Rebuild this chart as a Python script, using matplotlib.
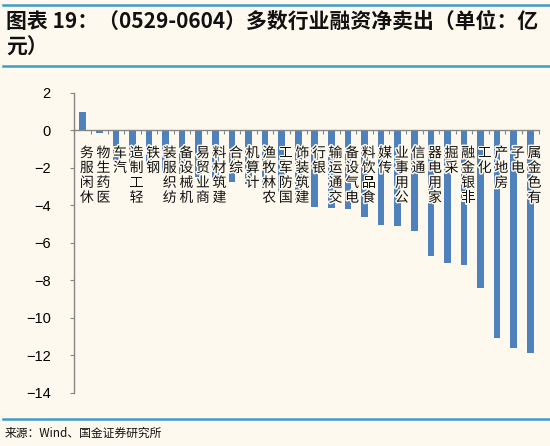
import matplotlib
matplotlib.use('Agg')
import matplotlib.pyplot as plt
from matplotlib.lines import Line2D
import matplotlib.patheffects as pe

# 行业及融资净买入额（亿元）
industries = ['休闲服务', '医药生物', '汽车', '轻工制造', '钢铁', '纺织服装', '机械设备',
              '商业贸易', '建筑材料', '综合', '计算机', '农林牧渔', '国防军工', '建筑装饰',
              '银行', '交通运输', '电气设备', '食品饮料', '传媒', '公用事业', '通信',
              '家用电器', '采掘', '非银金融', '化工', '房地产', '电子', '有色金属']
net_buy = [0.95, -0.13, -1.7, -1.95, -2.05, -2.2, -2.35,
           -2.5, -2.65, -2.75, -2.85, -3.1, -3.3, -3.7,
           -4.1, -4.15, -4.2, -4.65, -5.05, -5.1, -5.4,
           -6.7, -7.1, -7.2, -8.4, -11.1, -11.6, -11.9]
yticks = [2, 0, -2, -4, -6, -8, -10, -12, -14]

title = '图表 19：（0529-0604）多数行业融资净卖出（单位：亿\n元）'
source = '来源：Wind、国金证券研究所'

bg = '#FDF9EE'
bar_c = '#4F81BD'
axis_c = '#868686'
line_c = '#3E9CC8'
cjk = ['Noto Sans CJK SC', 'DejaVu Sans']

plt.rcParams['font.family'] = cjk
plt.rcParams['axes.unicode_minus'] = True

fig = plt.figure(figsize=(5.5, 4.46), dpi=100, facecolor=bg)
W, H = 550.0, 446.0

# 标题和来源
for yy in [5, 66, 419]:
    fig.add_artist(Line2D([3 / W, 1], [1 - yy / H, 1 - yy / H], color=line_c, lw=1.8))
fig.text(6 / W, 1 - 11 / H, title, ha='left', va='top', fontsize=15,
         fontweight='bold', color='#111111', linespacing=1.3)
fig.text(5 / W, 1 - 433 / H, source, ha='left', va='center', fontsize=8.5,
         color='#111111')

ax = fig.add_axes([74.4 / W, 1 - 392.7 / H, (538.6 - 74.4) / W, (392.7 - 92.7) / H])
ax.set_facecolor(bg)

x = list(range(len(industries)))
ax.bar(x, net_buy, width=0.4, color=bar_c, zorder=2)

ax.set_xlim(-0.5, len(industries) - 0.5)
ax.set_ylim(-14, 2)
ax.set_yticks(yticks)
ax.tick_params(axis='y', direction='out', length=3, color=axis_c, pad=14,
               labelsize=10.5)
for t in ax.get_yticklabels():
    t.set_family(['Liberation Sans', 'DejaVu Sans'])

ax.spines['bottom'].set_position(('data', 0))
ax.set_xticks([i - 0.5 for i in range(len(industries) + 1)])
ax.set_xticklabels([])
ax.tick_params(axis='x', direction='out', length=3, color=axis_c)
for s in ['top', 'right']:
    ax.spines[s].set_visible(False)
for s in ['left', 'bottom']:
    ax.spines[s].set_color(axis_c)
    ax.spines[s].set_linewidth(1.0)

# 竖排类别标签（从下往上读）
for i, name in enumerate(industries):
    ax.text(i + 0.25, -0.85, '\n'.join(name[::-1]), ha='center', va='top',
            fontsize=10, linespacing=1.08, color='#111111', zorder=3,
            path_effects=[pe.withStroke(linewidth=2.2, foreground=bg)])

fig.savefig('out.png', dpi=100, facecolor=bg)
